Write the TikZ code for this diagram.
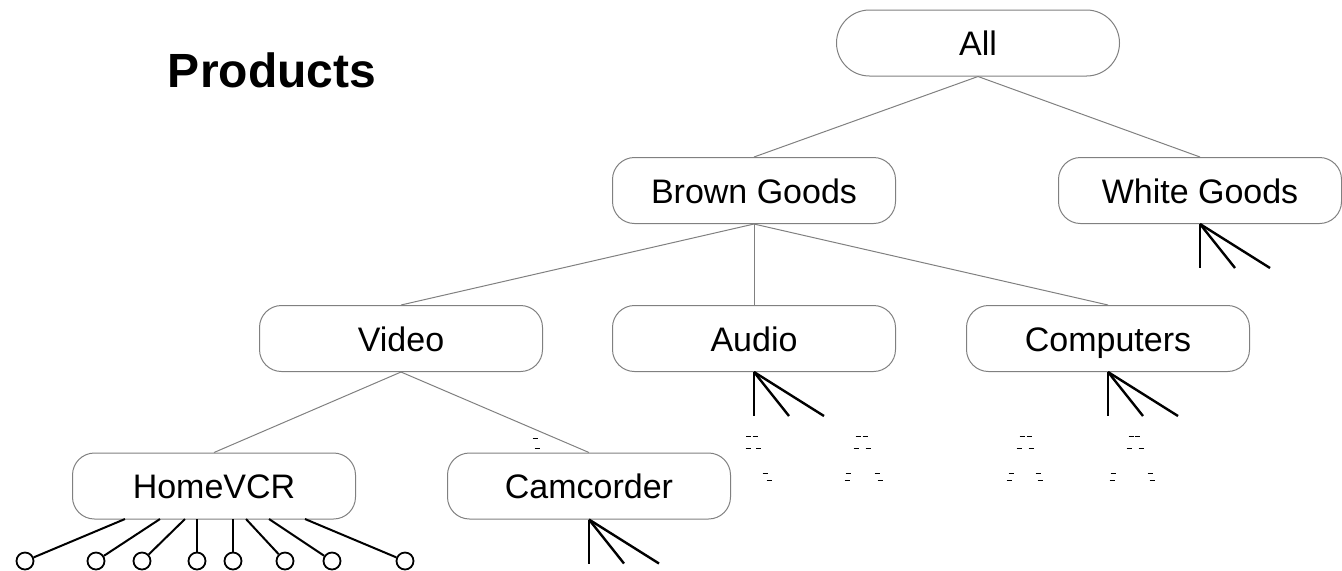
\documentclass[tikz,border=0pt]{standalone}
\usepackage{fontspec}
\setmainfont{Liberation Sans}
\usepackage{xcolor}
\definecolor{edge}{HTML}{808080}
\tikzset{cat/.style={draw=edge,line width=0.5pt,rounded corners=11pt,minimum width=141.5pt,minimum height=33pt,inner sep=0pt,text height=14.2pt,text depth=1.6pt,font=\fontsize{17}{20}\selectfont}}
\tikzset{root/.style={cat,rounded corners=16.5pt}}
\tikzset{link/.style={draw=edge,line width=0.5pt}}
\tikzset{fan/.style={draw=black,line width=1.2pt}}
\tikzset{leaf/.style={draw=black,line width=0.9pt,circle,minimum size=8.5pt,inner sep=0pt}}
\tikzset{tick/.style={draw=black,line width=0.5pt}}

\begin{document}
\begin{tikzpicture}[x=0.5pt,y=-0.5pt]
    \useasboundingbox (0,0) rectangle (1342,570);

    \node[anchor=base,font=\bfseries\fontsize{24}{28}\selectfont] (title) at (272,87) {Products};

    \node[root] (all) at (978,43) {All};

    \node[cat] (brown) at (754,190.5) {Brown Goods};
    \node[cat] (white) at (1200,190.5) {White Goods};

    \node[cat] (video) at (401,338.5) {Video};
    \node[cat] (audio) at (754,338.5) {Audio};
    \node[cat] (comp) at (1108,338.5) {Computers};

    \node[cat] (vcr) at (214,486) {HomeVCR};
    \node[cat] (cam) at (589,486) {Camcorder};

    \draw[link] (all.south) -- (brown.north);
    \draw[link] (all.south) -- (white.north);

    \draw[link] (brown.south) -- (video.north);
    \draw[link] (brown.south) -- (audio.north);
    \draw[link] (brown.south) -- (comp.north);

    \draw[link] (video.south) -- (vcr.north);
    \draw[link] (video.south) -- (cam.north);

    % unexpanded subtrees
    \foreach \n in {white,audio,comp,cam} {
        \draw[fan] (\n.south) -- ++(0,44);
        \draw[fan] (\n.south) -- ++(35,44);
        \draw[fan] (\n.south) -- ++(70,44);
    }

    % leaves of HomeVCR
    \foreach \s/\c [count=\i] in {125/25,160/96,185/142,197/197,233/233,246/285,269/332,305/405} {
        \node[leaf] (leaf\i) at (\c,561) {};
        \coordinate (foot\i) at (\s,519);
        \draw[fan,line width=1pt] (foot\i) -- (leaf\i);
    }

    % stray marks
    \foreach \x/\y in {748.5/436,755/436,858/436,865/436,1022/436,1029/436,1131/436,1137/436,
                       748/448,758.5/448,856/448,868/448,1019/448,1031/448,1129/448,1141/448,
                       765/473,848/473,877/473,1011/473,1038/473,1113/473,1150/473,
                       769/480,847/480,880/480,1009/480,1040/480,1112/480,1152/480,
                       535/438,537/448} {
        \draw[tick] (\x-2.5,\y) -- (\x+2.5,\y);
    }
\end{tikzpicture}
\end{document}
